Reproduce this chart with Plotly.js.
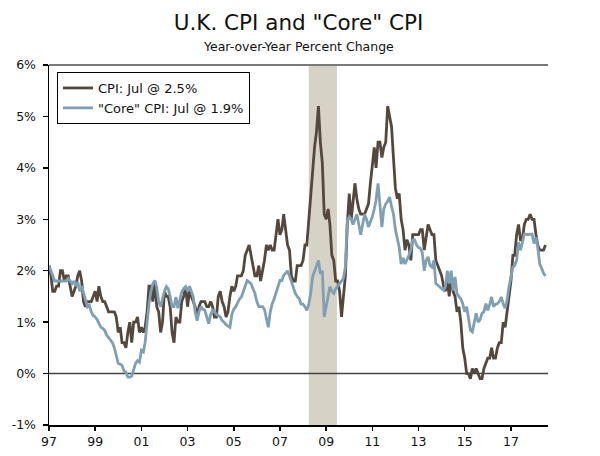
<!DOCTYPE html>
<html>
<head>
<meta charset="utf-8">
<script src="https://cdn.plot.ly/plotly-3.0.1.min.js"></script>
<style>html,body{margin:0;padding:0;background:#fff;}#chart{width:600px;height:456px;}</style>
</head>
<body>
<div id="chart"></div>
<script>
// Monthly data, Jan 1997 .. Jul 2018 (year-over-year % change)
const startYear = 1997;
const cpi = [
  2.1,1.9,1.6,1.6,1.7,1.7,2.0,2.0,1.8,1.9,1.9,1.7,
  1.5,1.6,1.7,1.9,2.0,1.8,1.4,1.3,1.4,1.4,1.4,1.5,
  1.6,1.4,1.7,1.5,1.4,1.4,1.3,1.2,1.2,1.2,1.2,1.1,
  0.8,0.9,0.6,0.6,0.5,0.8,1.0,0.6,1.0,1.0,1.1,0.8,
  0.9,0.8,0.9,1.2,1.7,1.7,1.4,1.8,1.3,1.2,0.8,1.0,
  1.6,1.5,1.5,1.3,0.8,0.6,1.1,1.0,1.0,1.4,1.5,1.7,
  1.3,1.6,1.5,1.4,1.3,1.1,1.3,1.4,1.4,1.4,1.3,1.3,
  1.4,1.3,1.1,1.1,1.5,1.6,1.4,1.3,1.1,1.2,1.5,1.7,
  1.6,1.7,1.9,1.9,1.9,2.0,2.3,2.4,2.5,2.3,2.1,1.9,
  1.9,2.1,1.8,2.0,2.2,2.5,2.4,2.5,2.4,2.4,2.7,3.0,
  2.7,2.8,3.1,2.8,2.5,2.4,1.9,1.8,1.8,2.1,2.1,2.1,
  2.2,2.5,2.5,3.0,3.3,3.8,4.4,4.7,5.2,4.5,4.1,3.1,
  3.0,3.2,2.9,2.3,2.2,1.8,1.8,1.6,1.1,1.5,1.9,2.9,
  3.5,3.0,3.4,3.7,3.4,3.2,3.1,3.1,3.1,3.2,3.3,3.7,
  4.0,4.4,4.0,4.5,4.5,4.2,4.4,4.5,5.2,5.0,4.8,4.2,
  3.6,3.4,3.5,3.0,2.8,2.4,2.6,2.5,2.2,2.7,2.7,2.7,
  2.7,2.8,2.8,2.4,2.7,2.9,2.8,2.7,2.7,2.2,2.1,2.0,
  1.9,1.7,1.6,1.8,1.5,1.9,1.6,1.5,1.2,1.3,1.0,0.5,
  0.3,0.0,0.0,-0.1,0.1,0.0,0.1,0.0,-0.1,-0.1,0.1,0.2,
  0.3,0.3,0.5,0.3,0.3,0.5,0.6,0.6,1.0,0.9,1.2,1.6,
  1.8,2.3,2.3,2.7,2.9,2.6,2.6,2.9,3.0,3.0,3.1,3.0,
  3.0,2.7,2.5,2.4,2.4,2.4,2.5
];
const core = [
  2.1,2.0,1.9,1.8,1.8,1.8,1.8,1.8,1.8,1.8,1.85,1.8,
  1.75,1.8,1.7,1.78,1.6,1.7,1.55,1.4,1.3,1.33,1.2,1.13,
  1.1,1.05,0.97,0.9,0.88,0.84,0.75,0.7,0.65,0.6,0.5,0.35,
  0.2,0.18,0.16,0.05,0.03,-0.07,-0.07,-0.05,0.09,0.2,0.25,0.22,
  0.45,0.42,0.6,1.0,1.36,1.6,1.75,1.81,1.68,1.4,1.3,1.45,
  1.6,1.69,1.65,1.5,1.3,1.3,1.49,1.27,1.45,1.59,1.65,1.69,
  1.6,1.7,1.6,1.49,1.2,1.03,1.2,1.3,1.25,1.23,1.1,0.97,
  1.15,1.23,1.2,1.15,1.13,1.1,1.03,1.0,0.95,0.93,0.9,1.15,
  1.25,1.3,1.39,1.45,1.49,1.6,1.7,1.81,1.78,1.75,1.65,1.56,
  1.4,1.3,1.3,1.3,1.25,1.1,0.9,1.2,1.36,1.45,1.56,1.7,
  1.81,1.81,1.91,1.95,2.0,1.9,1.78,1.7,1.56,1.5,1.46,1.35,
  1.35,1.3,1.23,1.35,1.56,1.88,2.0,2.1,2.2,1.94,2.0,1.1,
  1.3,1.5,1.69,1.6,1.56,1.65,1.69,1.75,1.8,1.85,2.07,2.98,
  3.05,3.0,2.9,3.0,3.1,2.9,2.7,2.9,3.1,3.0,2.85,2.95,
  3.05,3.2,3.37,3.7,3.2,2.85,3.2,3.3,3.35,3.43,3.25,3.1,
  2.8,2.58,2.45,2.13,2.25,2.13,2.2,2.3,2.4,2.6,2.6,2.5,
  2.45,2.43,2.35,2.0,2.2,2.27,2.1,2.07,2.2,1.75,1.72,1.69,
  1.65,1.62,1.69,2.0,1.75,2.0,1.62,1.88,1.55,1.49,1.45,1.36,
  1.2,1.3,1.04,0.84,0.81,0.97,1.17,1.0,1.05,1.17,1.2,1.36,
  1.23,1.35,1.49,1.3,1.35,1.36,1.4,1.49,1.35,1.27,1.43,1.69,
  1.9,2.07,2.1,2.2,2.55,2.4,2.55,2.71,2.71,2.7,2.71,2.71,
  2.53,2.65,2.45,2.13,2.05,1.95,1.9
];
const recession = ['2008-04-01', '2009-06-20'];
const xTickVals = ['1997-01-01','1999-01-01','2001-01-01','2003-01-01','2005-01-01','2007-01-01','2009-01-01','2011-01-01','2013-01-01','2015-01-01','2017-01-01'];
const xTickText = ['97','99','01','03','05','07','09','11','13','15','17'];
const yTickVals = [-1,0,1,2,3,4,5,6];
const yTickText = ['-1%','0%','1%','2%','3%','4%','5%','6%'];
const lastMonth = 'Jul';

const dates = cpi.map((_, i) => {
  const y = startYear + Math.floor(i / 12);
  const m = (i % 12) + 1;
  return y + '-' + String(m).padStart(2, '0') + '-01';
});

const FONT = '"DejaVu Sans", Verdana, sans-serif';
const xRange = ['1997-01-01', '2018-08-10'];

const traces = [
  {
    x: dates, y: cpi, type: 'scatter', mode: 'lines',
    name: 'CPI: ' + lastMonth + ' @ ' + cpi[cpi.length - 1].toFixed(1) + '%',
    line: {color: '#54483d', width: 2.8}
  },
  {
    x: dates, y: core, type: 'scatter', mode: 'lines',
    name: '"Core" CPI: ' + lastMonth + ' @ ' + core[core.length - 1].toFixed(1) + '%',
    line: {color: '#7f9fb4', width: 2.8}
  }
];

const yCommon = {
  range: [-1, 6], tickvals: yTickVals, ticktext: yTickText,
  showgrid: false, zeroline: false, fixedrange: true,
  tickfont: {family: FONT, size: 12.5, color: '#111'}
};

const layout = {
  width: 600, height: 456,
  margin: {l: 49, r: 52, t: 65, b: 31},
  paper_bgcolor: '#fff', plot_bgcolor: '#fff',
  font: {family: FONT, color: '#111'},
  showlegend: true,
  title: {
    text: 'U.K. CPI and "Core" CPI',
    font: {family: FONT, size: 21.5, color: '#111'},
    x: 0.5, xanchor: 'center', xref: 'paper',
    y: 1 - 22 / 456, yanchor: 'middle', yref: 'container'
  },
  annotations: [{
    text: 'Year-over-Year Percent Change',
    xref: 'paper', yref: 'paper', x: 0.5, y: (425 - 47) / 360,
    xanchor: 'center', yanchor: 'middle', showarrow: false,
    font: {family: FONT, size: 12.5, color: '#111'}
  }],
  legend: {
    x: (57 - 49) / 499, y: (425 - 72) / 360, xanchor: 'left', yanchor: 'top',
    bgcolor: '#fff', bordercolor: '#000', borderwidth: 1,
    font: {family: FONT, size: 13, color: '#111'},
    itemwidth: 30, tracegroupgap: 0
  },
  xaxis: {
    type: 'date', range: xRange, tickvals: xTickVals, ticktext: xTickText,
    ticks: 'outside', ticklen: 4, tickwidth: 1.5, tickcolor: '#000',
    showline: true, linecolor: '#000', linewidth: 1.5,
    showgrid: false, zeroline: false, fixedrange: true,
    tickfont: {family: FONT, size: 12.5, color: '#111'}
  },
  xaxis2: {
    type: 'date', range: xRange, tickvals: xTickVals, overlaying: 'x', anchor: 'y',
    side: 'bottom', ticks: 'inside', ticklen: 5, tickwidth: 1.5, tickcolor: '#000',
    showticklabels: false, showline: false, showgrid: false, zeroline: false
  },
  yaxis: Object.assign({}, yCommon, {
    ticks: 'outside', ticklen: 5, tickwidth: 1.5, tickcolor: '#000',
    showline: true, linecolor: '#000', linewidth: 1.5, ticklabelstandoff: 4
  }),
  yaxis2: Object.assign({}, yCommon, {
    overlaying: 'y', side: 'right', anchor: 'x',
    ticks: 'outside', ticklen: 5, tickwidth: 1.5, tickcolor: '#000',
    showline: true, linecolor: '#000', linewidth: 1.5, ticklabelstandoff: 4
  }),
  yaxis3: {
    range: [-1, 6], tickvals: yTickVals, overlaying: 'y', side: 'left', anchor: 'x',
    ticks: 'inside', ticklen: 4, tickwidth: 1.5, tickcolor: '#000',
    showticklabels: false, showline: false, showgrid: false, zeroline: false
  },
  yaxis4: {
    range: [-1, 6], tickvals: yTickVals, overlaying: 'y', side: 'right', anchor: 'x',
    ticks: 'inside', ticklen: 4, tickwidth: 1.5, tickcolor: '#000',
    showticklabels: false, showline: false, showgrid: false, zeroline: false
  },
  shapes: [
    {type: 'rect', xref: 'x', yref: 'paper', x0: recession[0], x1: recession[1], y0: 0, y1: 1,
     fillcolor: '#d7d2c6', line: {width: 0}, layer: 'below'},
    {type: 'line', xref: 'paper', yref: 'y', x0: 0, x1: 1, y0: 0, y1: 0,
     line: {color: '#444', width: 1.5}, layer: 'below'},
    {type: 'line', xref: 'paper', yref: 'paper', x0: 0, x1: 1, y0: 1, y1: 1,
     line: {color: '#7a7a7a', width: 2}, layer: 'above'}
  ]
};

Plotly.newPlot('chart', traces, layout, {displayModeBar: false, staticPlot: true});
</script>
</body>
</html>
